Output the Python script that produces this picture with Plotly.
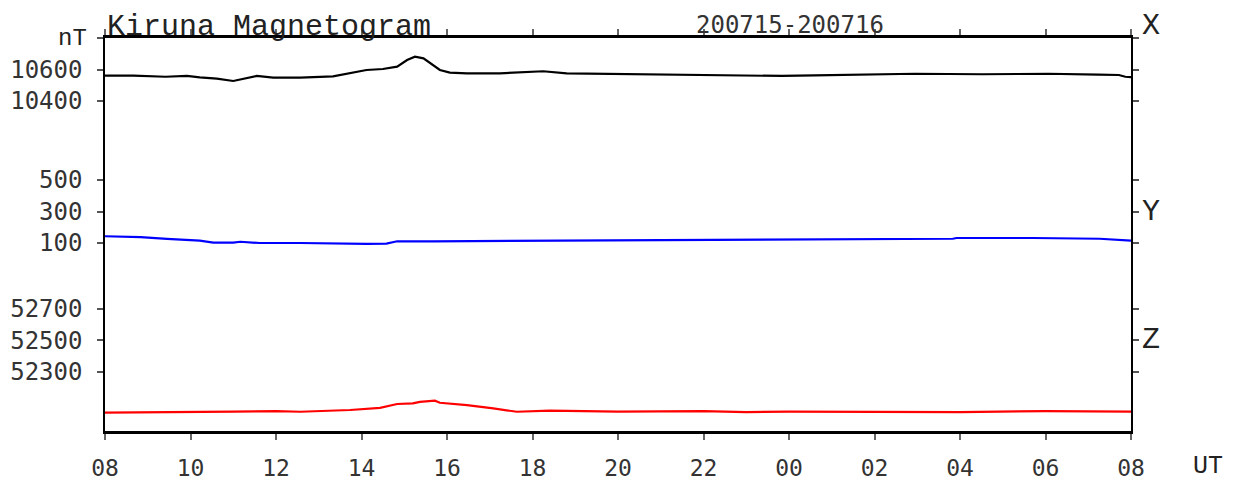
import plotly.graph_objects as go

# ---- data ----
x_times = ["2020-07-15 08:00", "2020-07-15 08:40", "2020-07-15 09:25", "2020-07-15 09:55",
           "2020-07-15 10:13", "2020-07-15 10:37", "2020-07-15 11:00", "2020-07-15 11:14",
           "2020-07-15 11:33", "2020-07-15 11:56", "2020-07-15 12:34", "2020-07-15 13:20",
           "2020-07-15 13:30", "2020-07-15 13:48", "2020-07-15 14:07", "2020-07-15 14:30",
           "2020-07-15 14:50", "2020-07-15 15:04", "2020-07-15 15:15", "2020-07-15 15:27",
           "2020-07-15 15:40", "2020-07-15 15:50", "2020-07-15 16:04", "2020-07-15 16:28",
           "2020-07-15 17:14", "2020-07-15 18:15", "2020-07-15 18:48", "2020-07-15 19:58",
           "2020-07-15 20:42", "2020-07-15 22:16", "2020-07-15 23:50", "2020-07-16 00:36",
           "2020-07-16 02:10", "2020-07-16 02:57", "2020-07-16 04:31", "2020-07-16 06:04",
           "2020-07-16 07:14", "2020-07-16 07:43", "2020-07-16 07:52", "2020-07-16 08:00"]
x_values = [10561, 10561, 10554, 10559, 10550, 10542, 10527, 10542, 10559, 10548,
            10548, 10557, 10565, 10580, 10597, 10603, 10618, 10660, 10681, 10671,
            10629, 10597, 10580, 10576, 10576, 10589, 10576, 10571, 10571, 10565,
            10559, 10563, 10570, 10573, 10570, 10573, 10567, 10565, 10554, 10552]

y_times = ["2020-07-15 08:00", "2020-07-15 08:50", "2020-07-15 09:27", "2020-07-15 10:13",
           "2020-07-15 10:32", "2020-07-15 11:00", "2020-07-15 11:10", "2020-07-15 11:37",
           "2020-07-15 12:34", "2020-07-15 13:20", "2020-07-15 14:07", "2020-07-15 14:35",
           "2020-07-15 14:50", "2020-07-15 15:40", "2020-07-15 17:14", "2020-07-15 20:20",
           "2020-07-15 23:29", "2020-07-16 01:02", "2020-07-16 03:50", "2020-07-16 03:55",
           "2020-07-16 05:42", "2020-07-16 07:16", "2020-07-16 07:55", "2020-07-16 08:00"]
y_values = [143, 138, 126, 115, 102, 102, 108, 100, 100, 96, 94, 96, 111, 111,
            113, 115, 119, 124, 127, 132, 132, 127, 120, 115]

z_times = ["2020-07-15 08:00", "2020-07-15 09:00", "2020-07-15 10:13", "2020-07-15 11:00",
           "2020-07-15 12:00", "2020-07-15 12:34", "2020-07-15 13:44", "2020-07-15 14:26",
           "2020-07-15 14:50", "2020-07-15 15:12", "2020-07-15 15:22", "2020-07-15 15:43",
           "2020-07-15 15:50", "2020-07-15 16:28", "2020-07-15 17:05", "2020-07-15 17:38",
           "2020-07-15 18:24", "2020-07-15 20:00", "2020-07-15 22:00", "2020-07-15 23:00",
           "2020-07-16 00:00", "2020-07-16 02:00", "2020-07-16 04:00", "2020-07-16 06:00",
           "2020-07-16 07:00", "2020-07-16 08:00"]
z_values = [52040, 52041, 52046, 52047, 52050, 52046, 52057, 52071, 52095, 52099,
            52109, 52116, 52103, 52088, 52067, 52046, 52053, 52047, 52050, 52044,
            52047, 52047, 52044, 52050, 52050, 52047]

x_ticks = [10400, 10600, 10800]
x_ticktext = ["10400", "10600", ""]
y_ticks = [100, 300, 500]
y_ticktext = ["100", "300", "500"]
z_ticks = [52300, 52500, 52700]
z_ticktext = ["52300", "52500", "52700"]

# ---- layout constants ----
SPAN = 2495  # nT covered by plot height
x_range = [10800 - SPAN, 10800]
y_range = [1401.6 - SPAN, 1401.6]
z_range = [54418.7 - SPAN, 54418.7]

num_font = dict(family="DejaVu Sans Mono", size=24, color="#333333")
mono_font = dict(family="Liberation Mono", size=30, color="#222222")

fig = go.Figure()
fig.add_trace(go.Scatter(x=x_times, y=x_values, mode="lines",
                         line=dict(color="black", width=2.2), yaxis="y"))
fig.add_trace(go.Scatter(x=y_times, y=y_values, mode="lines",
                         line=dict(color="#0000ff", width=2.2), yaxis="y2"))
fig.add_trace(go.Scatter(x=z_times, y=z_values, mode="lines",
                         line=dict(color="#ff0000", width=2.2), yaxis="y3"))

yax_common = dict(showgrid=False, zeroline=False, showline=True, linecolor="black",
                  linewidth=1.5, mirror="allticks", ticks="outside", ticklen=6,
                  tickwidth=1.5, tickcolor="#555555", tickfont=num_font,
                  ticklabelstandoff=10, fixedrange=True, automargin=False)

# The page adds an 8px body margin; the figure is sized to fit inside the window.
fig.update_layout(
    width=1225, height=473,
    margin=dict(l=97, r=102, t=30, b=50, autoexpand=False),
    paper_bgcolor="white", plot_bgcolor="white",
    showlegend=False,
    xaxis=dict(type="date", range=["2020-07-15 08:00", "2020-07-16 08:00"],
               dtick=7200000, tick0="2020-07-15 08:00", tickformat="%H",
               showgrid=False, zeroline=False, showline=True, linecolor="black",
               linewidth=2.5, mirror="allticks", ticks="outside", ticklen=6,
               tickwidth=1.5, tickcolor="#666666", automargin=False,
               tickfont=dict(family="DejaVu Sans Mono", size=23, color="#333333"),
               ticklabelstandoff=9),
    yaxis=dict(range=x_range, tickvals=x_ticks, ticktext=x_ticktext, **yax_common),
    yaxis2=dict(range=y_range, tickvals=y_ticks, ticktext=y_ticktext, overlaying="y",
                **yax_common),
    yaxis3=dict(range=z_range, tickvals=z_ticks, ticktext=z_ticktext, overlaying="y",
                **yax_common),
)

annotations = [
    dict(text="Kiruna Magnetogram", xref="paper", yref="paper", x=0, y=1,
         xanchor="left", yanchor="bottom", xshift=0, yshift=-8, showarrow=False,
         font=mono_font),
    dict(text="200715-200716", xref="paper", yref="paper", x=0.6676, y=1,
         xanchor="center", yanchor="bottom", yshift=-3, showarrow=False,
         font=dict(family="DejaVu Sans Mono", size=24, color="#333333")),
    dict(text="nT", xref="paper", yref="paper", x=0, y=1, xanchor="right",
         yanchor="middle", xshift=-16, showarrow=False,
         font=dict(family="Liberation Mono", size=24, color="#222222")),
    dict(text="X", xref="paper", yref="paper", x=1, y=1, xanchor="left",
         yanchor="middle", xshift=9, yshift=12, showarrow=False, font=mono_font),
    dict(text="Y", xref="paper", yref="y2", x=1, y=300, xanchor="left",
         yanchor="middle", xshift=9, showarrow=False, font=mono_font),
    dict(text="Z", xref="paper", yref="y3", x=1, y=52500, xanchor="left",
         yanchor="middle", xshift=9, showarrow=False, font=mono_font),
    dict(text="UT", xref="paper", yref="paper", x=1, y=0, xanchor="left",
         yanchor="middle", xshift=60, yshift=-35, showarrow=False,
         font=dict(family="Liberation Mono", size=25, color="#222222")),
]
fig.update_layout(annotations=annotations)

fig.write_html("out.html")
